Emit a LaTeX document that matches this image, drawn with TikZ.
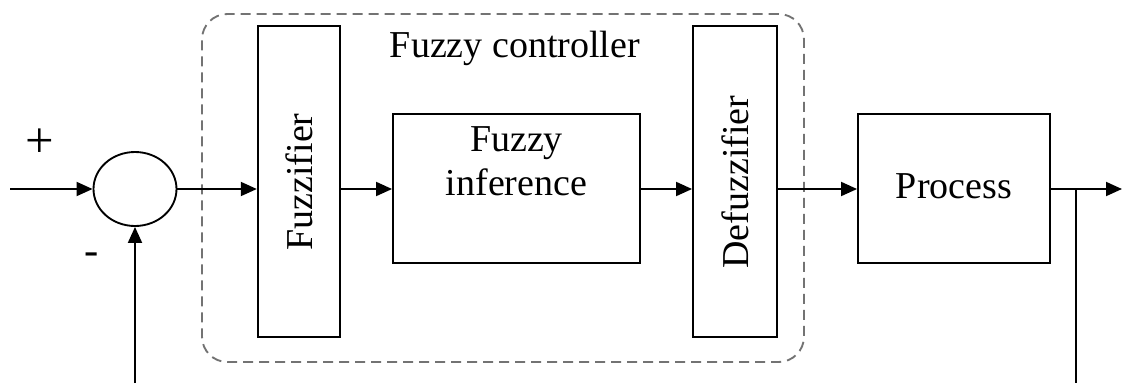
\documentclass[tikz,border=0pt]{standalone}
\usepackage{fontspec}
\setmainfont{Liberation Serif}
\usetikzlibrary{arrows.meta,shapes.geometric}
\begin{document}
\begin{tikzpicture}[x=0.75pt,y=-0.75pt,
  line width=1.4pt,
  every node/.style={font=\fontsize{28.5}{33}\selectfont, inner sep=0pt},
  block/.style={draw, rectangle, fill=white},
  sumnode/.style={draw, ellipse, minimum width=83*0.75pt, minimum height=74*0.75pt},
  ctrlbox/.style={draw=black!55, dash pattern=on 7.5pt off 4.5pt, rounded corners=19pt, line width=1.4pt},
  arr/.style={-{Triangle[length=12pt,width=10.5pt]}}
]
\useasboundingbox (0,0) rectangle (1122,383);

% fuzzy controller frame (dashed, rounded)
\node[ctrlbox, minimum width=602*0.75pt, minimum height=348*0.75pt] (ctrl) at (503,188) {};
\node (title) at (515,48) {Fuzzy controller};

% summing junction and signs
\node[sumnode] (sum) at (135,189) {};
\node[font=\fontsize{38}{40}\selectfont] (plus) at (40,143) {+};
\node[font=\fontsize{32}{36}\selectfont] (minus) at (92,259) {-};

% blocks
\node[block, minimum width=82.5*0.75pt, minimum height=311*0.75pt] (fuzz) at (299,181.5) {};
\node[rotate=90] (fuzztext) at (299,182) {Fuzzifier};
\node[block, minimum width=247*0.75pt, minimum height=149*0.75pt] (inf) at (516.5,188.5) {};
\node[align=center] (inftext) at (516.5,161) {Fuzzy\\inference};
\node[block, minimum width=84*0.75pt, minimum height=311*0.75pt] (defuzz) at (735,181.5) {};
\node[rotate=90] (defuzztext) at (735,182) {Defuzzifier};
\node[block, minimum width=192*0.75pt, minimum height=149*0.75pt] (proc) at (954,188.5) {};
\node (proctext) at (954,186) {Process};

% free ends
\coordinate (in) at (10,189);
\coordinate (out) at (1122,189);
\coordinate (branch) at (1076,189);
\coordinate (branchend) at (1076,383);
\coordinate (fbstart) at (135,383);

% signal path
\draw[arr] (in) -- (sum.west);
\draw[arr] (sum.east) -- (sum.east -| fuzz.west);
\draw[arr] (sum.east -| fuzz.east) -- (sum.east -| inf.west);
\draw[arr] (sum.east -| inf.east) -- (sum.east -| defuzz.west);
\draw[arr] (sum.east -| defuzz.east) -- (sum.east -| proc.west);
\draw[arr] (sum.east -| proc.east) -- (out);
\draw (branch) -- (branchend);
\draw[arr] (fbstart) -- (sum.south);
\end{tikzpicture}
\end{document}
